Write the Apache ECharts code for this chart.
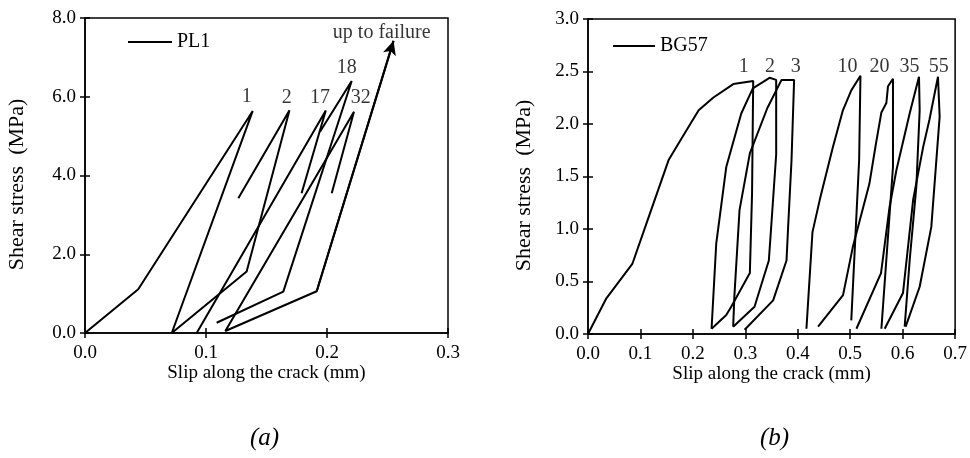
<!DOCTYPE html>
<html>
<head>
<meta charset="utf-8">
<script src="https://cdn.jsdelivr.net/npm/echarts@6/dist/echarts.min.js"></script>
<style>
html,body{margin:0;padding:0;background:#fff;}
#c{width:970px;height:458px;}
</style>
</head>
<body>
<div id="c"></div>
<script>
// ---------- Data: PL1 (chart a) ----------
const PL1_CYCLES_1_2 = [[0,0],[0.044,1.11],[0.1386,5.64],[0.0717,0],[0.1336,1.56],[0.169,5.66],[0.1267,3.42]];
const PL1_CYCLE_17 = [[0.0923,0],[0.199,5.65],[0.179,3.55]];
const PL1_CYCLE_18 = [[0.1088,0.26],[0.1639,1.05],[0.2204,6.40],[0.1942,5.11]];
const PL1_CYCLE_32_FAILURE = [[0.2039,3.55],[0.2223,5.62],[0.116,0.05],[0.1915,1.06],[0.255,7.42]];
const PL1_LABELS = [[0.1336,6.0,'1'],[0.1667,5.98,'2'],[0.1942,5.98,'17'],[0.2163,6.73,'18'],[0.2279,5.98,'32'],[0.2452,7.62,'up to failure']];
const PL1_X_TICKS = [0,0.1,0.2,0.3];
const PL1_Y_TICKS = [0,2,4,6,8];

// ---------- Data: BG57 (chart b) ----------
const BG57_CYCLE_1 = [[0,0],[0.035,0.34],[0.0845,0.667],[0.114,1.09],[0.154,1.66],[0.178,1.86],[0.211,2.13],[0.2385,2.25],[0.277,2.38],[0.315,2.41],[0.3128,1.34],[0.3086,0.58],[0.2731,0.26],[0.2636,0.18],[0.2356,0.05]];
const BG57_CYCLE_2 = [[0.2356,0.05],[0.2445,0.86],[0.2636,1.59],[0.2922,2.10],[0.3143,2.34],[0.3461,2.44],[0.3588,2.42],[0.3588,1.71],[0.349,1.0],[0.3448,0.70],[0.3175,0.26],[0.2768,0.07]];
const BG57_CYCLE_3 = [[0.2768,0.07],[0.279,0.35],[0.2889,1.18],[0.3086,1.72],[0.3418,2.15],[0.369,2.42],[0.393,2.42],[0.388,1.65],[0.3815,1.01],[0.3785,0.70],[0.353,0.32],[0.2986,0.04]];
const BG57_CYCLE_10 = [[0.4165,0.05],[0.428,0.97],[0.442,1.28],[0.467,1.78],[0.486,2.13],[0.502,2.32],[0.5195,2.46],[0.517,1.66],[0.502,0.13]];
const BG57_CYCLE_20 = [[0.4387,0.07],[0.4863,0.37],[0.505,0.83],[0.5365,1.43],[0.5486,1.80],[0.5594,2.11],[0.5689,2.20],[0.572,2.36],[0.5815,2.43],[0.5815,1.59],[0.5594,0.05]];
const BG57_CYCLE_35 = [[0.5118,0.05],[0.5587,0.58],[0.575,1.21],[0.588,1.56],[0.6133,2.10],[0.6311,2.45],[0.6324,2.13],[0.626,1.40],[0.6133,0.70],[0.6038,0.07]];
const BG57_CYCLE_55 = [[0.5657,0.05],[0.6006,0.39],[0.62,1.28],[0.639,1.78],[0.651,2.04],[0.6673,2.45],[0.6705,2.07],[0.6546,1.02],[0.6324,0.45],[0.6057,0.07]];
const BG57_LABELS = [[0.297,2.55,'1'],[0.347,2.55,'2'],[0.396,2.55,'3'],[0.495,2.55,'10'],[0.556,2.55,'20'],[0.613,2.55,'35'],[0.669,2.55,'55']];
const BG57_X_TICKS = [0,0.1,0.2,0.3,0.4,0.5,0.6,0.7];
const BG57_Y_TICKS = [0,0.5,1,1.5,2,2.5,3];

const FONT = 'Liberation Serif';
const BLACK = '#000';
const AXIS_FS = 19;
const NOTE_FS = 20;

function axisPair(grid, ticks, isX, name, nameGap){
  const min = ticks[0], max = ticks[ticks.length-1], interval = ticks[1]-ticks[0];
  const main = {
    type:'value', gridIndex:grid, min:min, max:max, interval:interval,
    position: isX ? 'bottom' : 'left',
    axisLine:{show:true, lineStyle:{color:BLACK, width:1.5}},
    axisTick:{show:true, inside:false, length:5, lineStyle:{color:BLACK, width:1.5}},
    axisLabel:{color:BLACK, fontFamily:FONT, fontSize:AXIS_FS, margin: isX ? 11 : 9,
      formatter: v => v.toFixed(1)},
    splitLine:{show:false},
    name:name, nameLocation:'middle', nameGap:nameGap, nameMoveOverlap:false,
    nameTextStyle: isX
      ? {color:BLACK, fontFamily:FONT, fontSize:AXIS_FS}
      : {color:BLACK, fontFamily:FONT, fontSize:22, padding:[0,18,0,0]}
  };
  const inner = {
    type:'value', gridIndex:grid, min:min, max:max, interval:interval,
    position: isX ? 'bottom' : 'left', offset:0,
    axisLine:{show:false},
    axisTick:{show:true, inside:true, length:5, lineStyle:{color:BLACK, width:1.5}},
    axisLabel:{show:false}, splitLine:{show:false}
  };
  return [main, inner];
}

const xAxes = [
  ...axisPair(0,PL1_X_TICKS,true,'Slip along the crack (mm)',31),
  ...axisPair(1,BG57_X_TICKS,true,'Slip along the crack (mm)',31)
];
const yAxes = [
  ...axisPair(0,PL1_Y_TICKS,false,'Shear stress  (MPa)',57),
  ...axisPair(1,BG57_Y_TICKS,false,'Shear stress  (MPa)',53)
];

function curve(name, data, xi, yi, extra){
  return Object.assign({
    type:'line', name:name, data:data, xAxisIndex:xi, yAxisIndex:yi,
    symbol:'none', smooth:false, silent:true,
    lineStyle:{color:BLACK, width:2}, itemStyle:{color:BLACK}
  }, extra||{});
}
function labels(name, data, xi, yi){
  return {
    type:'scatter', name:name, data:data, xAxisIndex:xi, yAxisIndex:yi,
    symbolSize:1, itemStyle:{color:'rgba(0,0,0,0)'}, silent:true,
    label:{show:true, position:'inside', formatter:p=>p.value[2],
      color:BLACK, fontFamily:FONT, fontSize:NOTE_FS}
  };
}

const last = PL1_CYCLE_32_FAILURE;
const series = [
  curve('PL1', PL1_CYCLES_1_2, 0, 0),
  curve('PL1', PL1_CYCLE_17, 0, 0),
  curve('PL1', PL1_CYCLE_18, 0, 0),
  curve('PL1', PL1_CYCLE_32_FAILURE, 0, 0, {
    markLine:{silent:true, symbol:['none','arrow'], symbolSize:[10,14],
      label:{show:false}, lineStyle:{color:BLACK, width:2, type:'solid'},
      data:[[{coord:last[last.length-2]},{coord:last[last.length-1]}]]}
  }),
  labels('PL1 labels', PL1_LABELS, 0, 0),
  curve('BG57', BG57_CYCLE_1, 2, 2),
  curve('BG57', BG57_CYCLE_2, 2, 2),
  curve('BG57', BG57_CYCLE_3, 2, 2),
  curve('BG57', BG57_CYCLE_10, 2, 2),
  curve('BG57', BG57_CYCLE_20, 2, 2),
  curve('BG57', BG57_CYCLE_35, 2, 2),
  curve('BG57', BG57_CYCLE_55, 2, 2),
  labels('BG57 labels', BG57_LABELS, 2, 2)
];

const chart = echarts.init(document.getElementById('c'), null, {renderer:'canvas'});
chart.setOption({
  animation:false,
  backgroundColor:'#fff',
  grid:[
    {left:85, top:18, width:363, height:315, show:true, borderColor:BLACK, borderWidth:1.5, backgroundColor:'rgba(0,0,0,0)'},
    {left:588, top:19, width:367.5, height:315, show:true, borderColor:BLACK, borderWidth:1.5, backgroundColor:'rgba(0,0,0,0)'}
  ],
  xAxis:xAxes,
  yAxis:yAxes,
  legend:[
    {data:['PL1'], left:128, top:32, padding:0, icon:'rect', itemWidth:44, itemHeight:2, itemGap:5, selectedMode:false,
      textStyle:{color:BLACK, fontFamily:FONT, fontSize:NOTE_FS}},
    {data:['BG57'], left:613, top:36, padding:0, icon:'rect', itemWidth:42, itemHeight:2, itemGap:5, selectedMode:false,
      textStyle:{color:BLACK, fontFamily:FONT, fontSize:NOTE_FS}}
  ],
  graphic:[
    {type:'text', left:250, top:426, style:{text:'(a)', fill:BLACK, font:'italic 25px "Liberation Serif"'}},
    {type:'text', left:760, top:426, style:{text:'(b)', fill:BLACK, font:'italic 25px "Liberation Serif"'}}
  ],
  series:series
});
</script>
</body>
</html>
